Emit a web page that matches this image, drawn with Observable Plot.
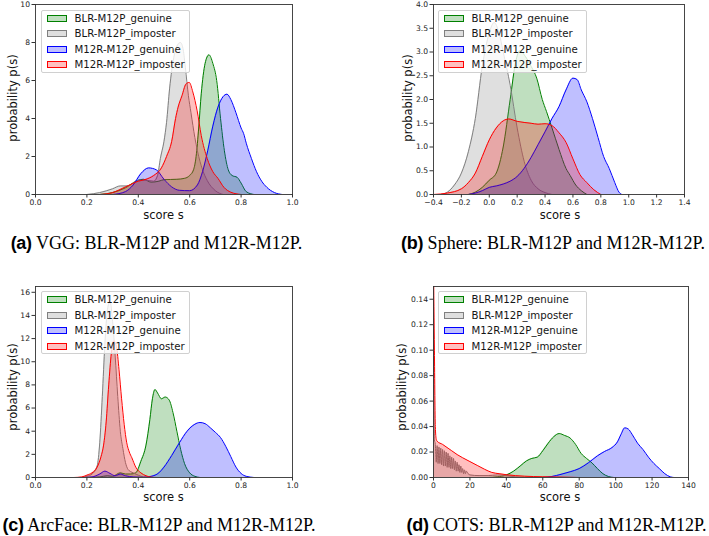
<!DOCTYPE html>
<html>
<head>
<meta charset="utf-8">
<script src="https://cdn.jsdelivr.net/npm/d3@7"></script>
<script src="https://cdn.jsdelivr.net/npm/@observablehq/plot@0.6"></script>
<style>
  html, body { margin: 0; padding: 0; background: #fff; }
  #root { position: relative; width: 709px; height: 536px; overflow: hidden; background: #fff; font-family: "DejaVu Sans", sans-serif; }
  .pane { position: absolute; }
  .xlab { position: absolute; font-size: 11.5px; color: #111; transform: translate(-50%, -50%); white-space: nowrap; }
  .ylab { position: absolute; font-size: 11.5px; color: #111; transform: translate(-50%, -50%) rotate(-90deg); white-space: nowrap; }
  .lgbox { position: absolute; width: 149px; height: 63px; background: rgba(255,255,255,0.8); border: 0.8px solid #d0d0d0; border-radius: 2px; box-sizing: border-box; }
  .lgrow { position: absolute; left: 0; height: 13px; white-space: nowrap; }
  .lgsw { position: absolute; left: 5px; top: 3px; width: 20px; height: 7px; box-sizing: border-box; border-width: 1px; border-style: solid; }
  .lgtxt { position: absolute; left: 33px; top: 0px; line-height: 13px; font-family: "DejaVu Sans", sans-serif; font-size: 10.2px; color: #151515; }
  .cap { position: absolute; font-family: "Liberation Serif", "Times New Roman", serif; font-size: 18px; line-height: 18px; color: #000; white-space: nowrap; transform: translateX(-50%); }
  .cap b { font-family: "Liberation Sans", Arial, sans-serif; font-weight: bold; letter-spacing: -0.3px; }
</style>
</head>
<body>
<div id="root"></div>
<script>
// ---------- data ----------
const seriesNames = ["BLR-M12P_genuine", "BLR-M12P_imposter", "M12R-M12P_genuine", "M12R-M12P_imposter"];

// (a) VGG  [score, density]
const vgg_BLR_genuine = [[0.25,0],[0.3,0.1],[0.35,0.35],[0.4,0.75],[0.42,0.8],[0.45,0.65],[0.48,0.7],[0.5,0.78],[0.55,0.8],[0.58,0.85],[0.6,1.0],[0.615,1.3],[0.625,2.0],[0.635,3.5],[0.645,5.3],[0.66,6.9],[0.675,7.35],[0.69,6.9],[0.705,6.0],[0.72,4.0],[0.735,2.3],[0.75,1.3],[0.765,1.0],[0.785,0.9],[0.8,0.6],[0.82,0.15],[0.85,0]];
const vgg_BLR_imposter = [[0.2,0],[0.25,0.1],[0.3,0.3],[0.33,0.45],[0.36,0.45],[0.4,0.75],[0.43,0.75],[0.46,0.7],[0.475,1.0],[0.486,1.9],[0.5,2.8],[0.51,3.8],[0.522,5.6],[0.538,7.2],[0.55,7.8],[0.564,8.0],[0.575,7.6],[0.583,6.7],[0.595,5.2],[0.605,4.3],[0.62,3.0],[0.63,2.3],[0.65,1.3],[0.668,0.74],[0.7,0.2],[0.73,0]];
const vgg_M12R_genuine = [[0.3,0],[0.35,0.15],[0.38,0.5],[0.41,1.1],[0.44,1.4],[0.47,1.3],[0.5,0.8],[0.53,0.4],[0.56,0.22],[0.6,0.2],[0.63,0.5],[0.65,1.2],[0.67,2.3],[0.69,3.6],[0.71,4.6],[0.73,5.15],[0.745,5.28],[0.76,5.0],[0.78,4.3],[0.8,3.5],[0.81,3.2],[0.82,2.7],[0.84,1.9],[0.86,1.2],[0.88,0.7],[0.9,0.38],[0.93,0.1],[0.96,0]];
const vgg_M12R_imposter = [[0.25,0],[0.3,0.1],[0.35,0.4],[0.4,0.7],[0.43,0.8],[0.46,1.0],[0.49,1.4],[0.51,2.0],[0.53,2.8],[0.545,4.0],[0.555,4.6],[0.57,5.2],[0.585,5.8],[0.598,5.9],[0.612,5.4],[0.629,4.4],[0.645,3.1],[0.668,1.9],[0.69,1.2],[0.71,0.85],[0.733,0.38],[0.76,0.12],[0.8,0]];

// (b) Sphere
const sph_BLR_genuine = [[-0.15,0],[-0.1,0.05],[-0.05,0.15],[0.0,0.3],[0.05,0.45],[0.1,1.0],[0.15,2.0],[0.19,2.8],[0.22,3.03],[0.26,2.9],[0.3,2.7],[0.34,2.45],[0.38,2.0],[0.41,1.75],[0.45,1.4],[0.5,0.95],[0.55,0.55],[0.58,0.4],[0.62,0.2],[0.66,0.08],[0.7,0]];
const sph_BLR_imposter = [[-0.35,0],[-0.3,0.05],[-0.25,0.2],[-0.2,0.45],[-0.15,0.9],[-0.1,1.6],[-0.05,2.7],[0.0,3.4],[0.035,3.62],[0.07,3.4],[0.1,3.0],[0.15,2.3],[0.2,1.4],[0.25,0.7],[0.3,0.3],[0.35,0.12],[0.4,0.04],[0.45,0]];
const sph_M12R_genuine = [[-0.15,0],[-0.1,0.03],[-0.05,0.08],[0.0,0.15],[0.05,0.18],[0.1,0.22],[0.15,0.28],[0.2,0.38],[0.25,0.55],[0.3,0.78],[0.35,1.05],[0.4,1.32],[0.45,1.6],[0.5,1.85],[0.55,2.2],[0.6,2.45],[0.63,2.42],[0.66,2.2],[0.7,1.95],[0.74,1.6],[0.78,1.2],[0.82,0.8],[0.86,0.55],[0.9,0.25],[0.93,0.05],[0.95,0]];
const sph_M12R_imposter = [[-0.4,0],[-0.3,0.03],[-0.2,0.12],[-0.15,0.25],[-0.1,0.45],[-0.05,0.8],[0.0,1.15],[0.05,1.4],[0.1,1.55],[0.14,1.59],[0.2,1.54],[0.3,1.5],[0.35,1.48],[0.4,1.49],[0.45,1.45],[0.5,1.3],[0.55,1.1],[0.6,0.75],[0.65,0.42],[0.7,0.25],[0.75,0.1],[0.8,0]];

// (c) ArcFace
const arc_BLR_genuine = [[0.2,0],[0.25,0.05],[0.28,0.15],[0.3,0.1],[0.33,0.4],[0.35,0.3],[0.37,0.3],[0.39,0.4],[0.41,1.4],[0.43,2.8],[0.445,5.0],[0.455,6.8],[0.465,7.6],[0.475,7.3],[0.49,6.8],[0.505,6.95],[0.52,6.7],[0.535,5.6],[0.55,4.0],[0.565,2.4],[0.58,1.2],[0.6,0.4],[0.62,0.1],[0.64,0]];
const arc_BLR_imposter = [[0.18,0],[0.2,0.1],[0.22,0.3],[0.24,1.0],[0.25,3.0],[0.26,7.0],[0.27,11.5],[0.28,14.5],[0.29,15.2],[0.3,13.5],[0.31,10.5],[0.32,7.0],[0.33,4.0],[0.34,2.5],[0.35,1.3],[0.36,0.7],[0.38,0.4],[0.4,0.2],[0.42,0.05],[0.45,0]];
const arc_M12R_genuine = [[0.18,0],[0.22,0.05],[0.25,0.3],[0.27,0.55],[0.29,0.35],[0.31,0.15],[0.33,0.3],[0.35,0.15],[0.38,0.05],[0.42,0.02],[0.45,0.1],[0.48,0.4],[0.5,0.9],[0.53,1.9],[0.56,3.0],[0.59,4.0],[0.62,4.6],[0.64,4.75],[0.66,4.65],[0.68,4.3],[0.7,3.9],[0.72,3.45],[0.74,2.7],[0.76,1.8],[0.78,0.9],[0.8,0.35],[0.82,0.1],[0.85,0]];
const arc_M12R_imposter = [[0.15,0],[0.18,0.05],[0.2,0.2],[0.22,0.4],[0.24,0.9],[0.255,1.8],[0.265,2.8],[0.275,4.8],[0.285,8.0],[0.295,10.7],[0.305,11.8],[0.315,11.3],[0.325,9.3],[0.335,6.8],[0.345,4.6],[0.355,3.0],[0.365,2.2],[0.375,1.7],[0.39,0.9],[0.41,0.4],[0.43,0.15],[0.45,0.03],[0.47,0]];

// (d) COTS
const cots_BLR_genuine = [[30,0],[35,0.0005],[40,0.002],[44,0.005],[48,0.0095],[51,0.013],[54,0.015],[57,0.016],[60,0.021],[63,0.027],[66,0.032],[69,0.0345],[72,0.033],[75,0.031],[78,0.026],[81,0.019],[84,0.015],[87,0.0115],[90,0.007],[93,0.003],[96,0.0008],[99,0]];
const cots_BLR_imposter = [[0,0.14],[0.5,0.03],[1,0.026],[1.5,0.012],[2,0.025],[2.5,0.011],[3,0.024],[3.5,0.011],[4,0.023],[4.5,0.010],[5,0.022],[5.5,0.009],[6,0.021],[6.5,0.009],[7,0.020],[7.5,0.008],[8,0.019],[8.5,0.008],[9,0.017],[9.5,0.007],[10,0.016],[10.5,0.007],[11,0.015],[11.5,0.006],[12,0.013],[12.5,0.005],[13,0.012],[13.5,0.005],[14,0.010],[14.5,0.004],[15,0.009],[15.5,0.004],[16,0.007],[16.5,0.003],[17,0.006],[17.5,0.003],[18,0.005],[19,0.003],[20,0.002],[25,0.0015],[30,0.0015],[35,0.002],[40,0.0015],[45,0.0005],[50,0]];
const cots_M12R_genuine = [[60,0],[65,0.0008],[70,0.0025],[75,0.0045],[80,0.007],[85,0.0115],[90,0.017],[94,0.0205],[98,0.0235],[101,0.028],[103,0.034],[105,0.039],[107,0.038],[109,0.034],[112,0.027],[115,0.022],[118,0.016],[121,0.011],[124,0.007],[127,0.003],[130,0.0005],[132,0]];
const cots_M12R_imposter = [[0,0.17],[0.5,0.1],[1,0.04],[1.5,0.03],[2,0.0285],[5,0.026],[8,0.023],[10,0.021],[13,0.018],[16,0.0155],[20,0.0125],[24,0.0095],[28,0.0065],[32,0.004],[36,0.003],[40,0.0022],[50,0.001],[60,0.0006],[70,0.0003],[80,0]];

// ticks
const ticks01 = [0, 0.2, 0.4, 0.6, 0.8, 1.0];
const ticksSphX = [-0.4, -0.2, 0, 0.2, 0.4, 0.6, 0.8, 1.0, 1.2, 1.4];
const ticksCotsX = [0, 20, 40, 60, 80, 100, 120, 140];
const ticksVggY = [0, 2, 4, 6, 8, 10];
const ticksSphY = [0, 0.5, 1.0, 1.5, 2.0, 2.5, 3.0, 3.5, 4.0];
const ticksArcY = [0, 2, 4, 6, 8, 10, 12, 14, 16];
const ticksCotsY = [0, 0.02, 0.04, 0.06, 0.08, 0.10, 0.12, 0.14];

const captions = [
  ["(a)", "VGG: BLR-M12P and M12R-M12P."],
  ["(b)", "Sphere: BLR-M12P and M12R-M12P."],
  ["(c)", "ArcFace: BLR-M12P and M12R-M12P."],
  ["(d)", "COTS: BLR-M12P and M12R-M12P."]
];

// ---------- styling ----------
const colors = ["#008000", "#808080", "#0000ff", "#ff0000"];
const root = document.getElementById("root");

function makePanel(p) {
  const marks = [];
  p.series.forEach((data, i) => {
    marks.push(Plot.areaY(data, {x: d => d[0], y: d => d[1], fill: colors[i], fillOpacity: 0.25, curve: "monotone-x", clip: true}));
    marks.push(Plot.lineY(data, {x: d => d[0], y: d => d[1], stroke: colors[i], strokeWidth: 1, curve: "monotone-x", clip: true}));
  });
  marks.push(Plot.frame({stroke: "#333", strokeWidth: 0.9}));
  marks.push(Plot.axisX({ticks: p.xTicks, tickFormat: d3.format(p.xFmt), tickSize: 3.5, tickPadding: 2, label: null, stroke: "#333"}));
  marks.push(Plot.axisY({ticks: p.yTicks, tickFormat: d3.format(p.yFmt), tickSize: 3.5, tickPadding: 2, label: null, stroke: "#333"}));
  const svg = Plot.plot({
    width: p.width, height: 226,
    marginLeft: p.ml, marginRight: p.mr, marginTop: 4, marginBottom: p.mb,
    x: {domain: p.xDomain},
    y: {domain: p.yDomain},
    style: {fontFamily: "DejaVu Sans, sans-serif", fontSize: "7.6px", color: "#222", background: "transparent"},
    marks
  });
  const div = document.createElement("div");
  div.className = "pane";
  div.style.left = p.left + "px";
  div.style.top = p.top + "px";
  div.appendChild(svg);
  root.appendChild(div);

  // axis labels
  const xl = document.createElement("div");
  xl.className = "xlab"; xl.textContent = "score s";
  xl.style.left = p.xlab[0] + "px"; xl.style.top = p.xlab[1] + "px";
  root.appendChild(xl);
  const yl = document.createElement("div");
  yl.className = "ylab"; yl.textContent = "probability p(s)";
  yl.style.left = p.ylab[0] + "px"; yl.style.top = p.ylab[1] + "px";
  root.appendChild(yl);

  // legend
  const lg = document.createElement("div");
  lg.className = "lgbox";
  lg.style.left = p.legend[0] + "px"; lg.style.top = p.legend[1] + "px";
  seriesNames.forEach((name, i) => {
    const row = document.createElement("div");
    row.className = "lgrow";
    row.style.top = (1 + i * 15.5) + "px";
    const sw = document.createElement("div");
    sw.className = "lgsw";
    sw.style.borderColor = colors[i];
    const c = d3.color(colors[i]); c.opacity = 0.25;
    sw.style.background = c.formatRgb();
    const t = document.createElement("span");
    t.className = "lgtxt";
    t.textContent = name;
    row.appendChild(sw); row.appendChild(t);
    lg.appendChild(row);
  });
  root.appendChild(lg);

  // caption
  const cap = document.createElement("div");
  cap.className = "cap";
  cap.style.left = p.cap[0] + "px"; cap.style.top = p.cap[1] + "px";
  const b = document.createElement("b");
  b.textContent = p.caption[0];
  cap.appendChild(b);
  cap.appendChild(document.createTextNode(" " + p.caption[1]));
  root.appendChild(cap);
}

makePanel({series: [vgg_BLR_genuine, vgg_BLR_imposter, vgg_M12R_genuine, vgg_M12R_imposter],
  left: 0, top: 0, width: 300, ml: 35, mr: 8, mb: 32,
  xDomain: [0, 1], yDomain: [0, 10], xTicks: ticks01, yTicks: ticksVggY, xFmt: ".1f", yFmt: "d",
  xlab: [163.5, 215], ylab: [12.5, 98], legend: [40.5, 9.5], cap: [156.5, 234], caption: captions[0]});

makePanel({series: [sph_BLR_genuine, sph_BLR_imposter, sph_M12R_genuine, sph_M12R_imposter],
  left: 397, top: 0, width: 305, ml: 36, mr: 18, mb: 32,
  xDomain: [-0.4, 1.4], yDomain: [0, 4], xTicks: ticksSphX, yTicks: ticksSphY, xFmt: ".1f", yFmt: ".1f",
  xlab: [560, 215], ylab: [408, 98], legend: [437.5, 9.5], cap: [553, 234], caption: captions[1]});

makePanel({series: [arc_BLR_genuine, arc_BLR_imposter, arc_M12R_genuine, arc_M12R_imposter],
  left: 0, top: 282, width: 300, ml: 35, mr: 8, mb: 31,
  xDomain: [0, 1], yDomain: [0, 16.5], xTicks: ticks01, yTicks: ticksArcY, xFmt: ".1f", yFmt: "d",
  xlab: [163.5, 497], ylab: [12.5, 387], legend: [40.5, 291], cap: [159, 516], caption: captions[2]});

makePanel({series: [cots_BLR_genuine, cots_BLR_imposter, cots_M12R_genuine, cots_M12R_imposter],
  left: 397, top: 282, width: 305, ml: 36, mr: 14, mb: 31,
  xDomain: [0, 140], yDomain: [0, 0.15], xTicks: ticksCotsX, yTicks: ticksCotsY, xFmt: "d", yFmt: ".2f",
  xlab: [560, 497], ylab: [402, 387], legend: [437.5, 291], cap: [556.5, 516], caption: captions[3]});
</script>
</body>
</html>
